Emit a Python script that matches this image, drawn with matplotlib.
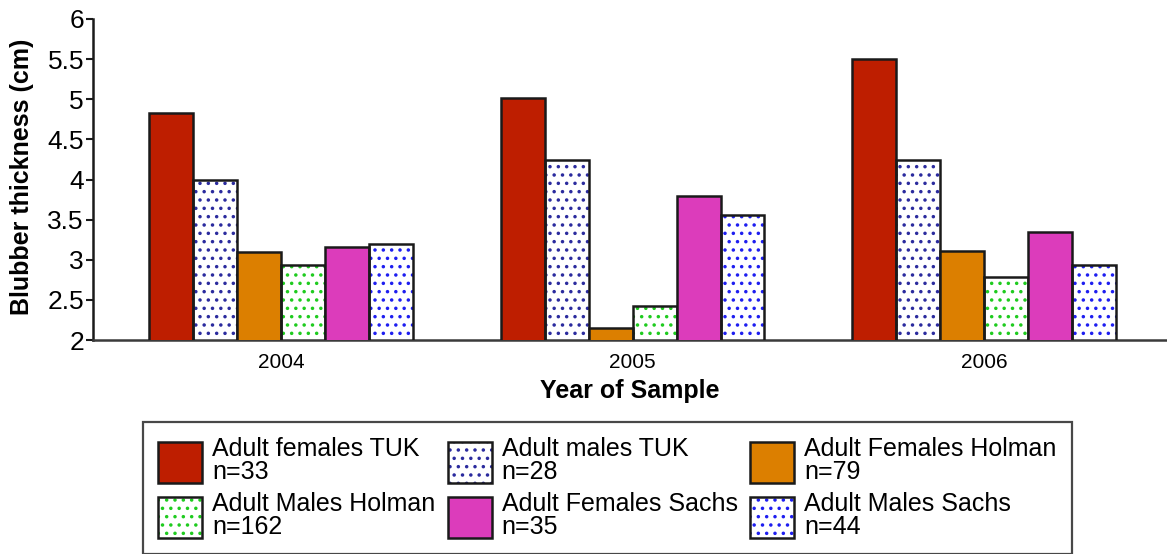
import matplotlib
matplotlib.use("Agg")
import matplotlib.pyplot as plt
import numpy as np

plt.rcParams['font.family'] = ['Liberation Sans', 'DejaVu Sans']
plt.rcParams['hatch.linewidth'] = 1.3

years = ["2004", "2005", "2006"]
series_names = [
    "Adult females TUK\nn=33",
    "Adult males TUK\nn=28",
    "Adult Females Holman\nn=79",
    "Adult Males Holman\nn=162",
    "Adult Females Sachs\nn=35",
    "Adult Males Sachs\nn=44",
]
tuk_females = [4.83, 5.01, 5.50]
tuk_males = [4.00, 4.24, 4.24]
holman_females = [3.10, 2.15, 3.11]
holman_males = [2.93, 2.42, 2.78]
sachs_females = [3.16, 3.79, 3.34]
sachs_males = [3.20, 3.56, 2.93]
series_values = [tuk_females, tuk_males, holman_females,
                 holman_males, sachs_females, sachs_males]
y_ticks = [2, 2.5, 3, 3.5, 4, 4.5, 5, 5.5, 6]

# (face colour, dot colour or None)
styles = [
    ("#BE1E00", None),
    ("white", "#2B2B9E"),
    ("#DC7F00", None),
    ("white", "#1FCB1F"),
    ("#DC3CBB", None),
    ("white", "#1E1EF0"),
]

fig = plt.figure(figsize=(11.67, 5.54), dpi=100)
ax = fig.add_axes([93 / 1167, 1 - 340 / 554, 1 - 93 / 1167, 321 / 554])

x = np.arange(len(years))
width = 0.125
handles = []
for i, (vals, (face, dot)) in enumerate(zip(series_values, styles)):
    pos = x + (i - 2.5) * width
    if dot is None:
        b = ax.bar(pos, vals, width, color=face, edgecolor="#1a1a1a",
                   linewidth=1.8, zorder=3)
        handles.append(b[0])
    else:
        b1 = ax.bar(pos, vals, width, color="white", edgecolor=dot,
                    hatch="..", linewidth=0, zorder=2)
        b2 = ax.bar(pos, vals, width, fill=False, edgecolor="#1a1a1a",
                    linewidth=1.8, zorder=3)
        handles.append((b1[0], b2[0]))

ax.set_xlim(-0.535, 2.52)
ax.set_ylim(2, 6)
ax.set_yticks(y_ticks)
ax.set_yticklabels([f"{t:g}" for t in y_ticks], fontsize=19)
ax.set_xticks(x)
ax.set_xticklabels(years, fontsize=15)

for s in ("top", "right"):
    ax.spines[s].set_visible(False)
ax.spines["left"].set_linewidth(1.8)
ax.spines["left"].set_color("#1a1a1a")
ax.spines["bottom"].set_linewidth(1.8)
ax.spines["bottom"].set_color("#3a3a3a")
ax.tick_params(axis="y", length=5, width=1.5, pad=1.5, color="#1a1a1a")
ax.tick_params(axis="x", length=0, pad=9)

ax.set_ylabel("Blubber thickness (cm)", fontsize=18, fontweight="bold",
              va="center")
ax.yaxis.set_label_coords(-0.066, 0.509)
ax.set_xlabel("Year of Sample", fontsize=18, fontweight="bold", va="center")
ax.xaxis.set_label_coords(0.5, -0.159)

order = [0, 3, 1, 4, 2, 5]
leg = fig.legend([handles[k] for k in order], [series_names[k] for k in order],
                 loc="upper left", bbox_to_anchor=(143 / 1167, 1 - 422 / 554),
                 borderaxespad=0, ncol=3, fontsize=18, frameon=True,
                 fancybox=False, edgecolor="#1a1a1a", borderpad=0.6,
                 handlelength=1.76, handleheight=2.18, handletextpad=0.4,
                 labelspacing=0.3, columnspacing=0.5)
leg.get_frame().set_linewidth(1.6)
for t in leg.get_texts():
    t.set_linespacing(0.97)

fig.savefig("out.png", dpi=100)
